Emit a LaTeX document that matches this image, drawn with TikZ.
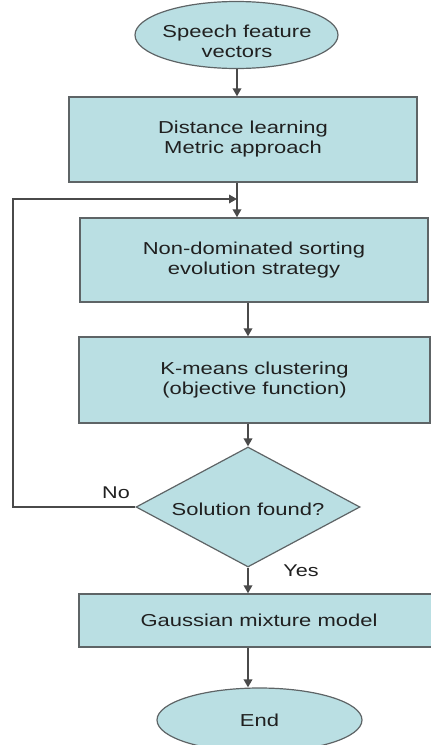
\documentclass[tikz,border=0pt]{standalone}
\usepackage{fontspec}
\setmainfont[FakeStretch=1.27]{Liberation Sans}
\usetikzlibrary{shapes.geometric,arrows.meta}

\definecolor{boxfill}{HTML}{BADFE3}
\definecolor{boxline}{HTML}{5E6466}
\definecolor{flowline}{HTML}{4A4A4A}
\definecolor{inktext}{HTML}{202020}

\tikzset{
  x=1pt, y=-1pt,
  every node/.style={font=\fontsize{17.3}{20}\selectfont, text=inktext, align=center, inner sep=0pt},
  procbox/.style={rectangle, draw=boxline, line width=1.4pt, fill=boxfill},
  terminal/.style={ellipse, draw=boxline, line width=1.2pt, fill=boxfill},
  decision/.style={diamond, draw=boxline, line width=1.2pt, fill=boxfill,
                   aspect=1.87, minimum width=224pt, minimum height=120pt},
  flow/.style={draw=flowline, line width=1.8pt, -{Triangle[length=8pt,width=8.5pt]}},
  branchlabel/.style={font=\fontsize{17}{19}\selectfont}
}

\begin{document}
\begin{tikzpicture}
  \useasboundingbox (0,0) rectangle (431,745);

  % start terminal, its text sits a little below the centre
  \node[terminal, minimum width=203pt, minimum height=67pt] (start) at (236.5,35) {};
  \node (starttext) at (237,41) {Speech feature\\vectors};

  \node[procbox, minimum width=348pt, minimum height=85pt] (metric) at (243,139.5)
    {Distance learning\\Metric approach};
  \node[procbox, minimum width=348pt, minimum height=84pt] (nsga) at (254,260)
    {Non-dominated sorting\\evolution strategy};
  \node[procbox, minimum width=351pt, minimum height=86pt] (kmeans) at (254.5,380)
    {K-means clustering\\(objective function)};
  \node[decision] (check) at (248,507) {};
  \node (checktext) at (248,509) {Solution found?};
  \node[procbox, minimum width=360pt, minimum height=53pt] (gmm) at (259,620.5)
    {Gaussian mixture model};
  \node[terminal, minimum width=205pt, minimum height=64pt] (stop) at (259.5,720) {End};

  % loop-back route and merge point
  \coordinate (loopcorner) at (13,199);
  \coordinate (merge) at (237,199);

  % connectors
  \draw[flow] (start.south -| merge) -- (metric.north -| merge);
  \draw[flow] (metric.south -| merge) -- (nsga.north -| merge);
  \draw[flow] (nsga.south -| check) -- (kmeans.north -| check);
  \draw[flow] (kmeans.south -| check) -- (check.north);
  \draw[flow] (check.west) -| (loopcorner) -- (merge);
  \draw[flow] (check.south) -- (gmm.north -| check);
  \draw[flow] (gmm.south -| check) -- (stop.north -| check);

  % branch labels
  \node[branchlabel] (nolabel) at (116,493) {No};
  \node[branchlabel] (yeslabel) at (301,571) {Yes};
\end{tikzpicture}
\end{document}
